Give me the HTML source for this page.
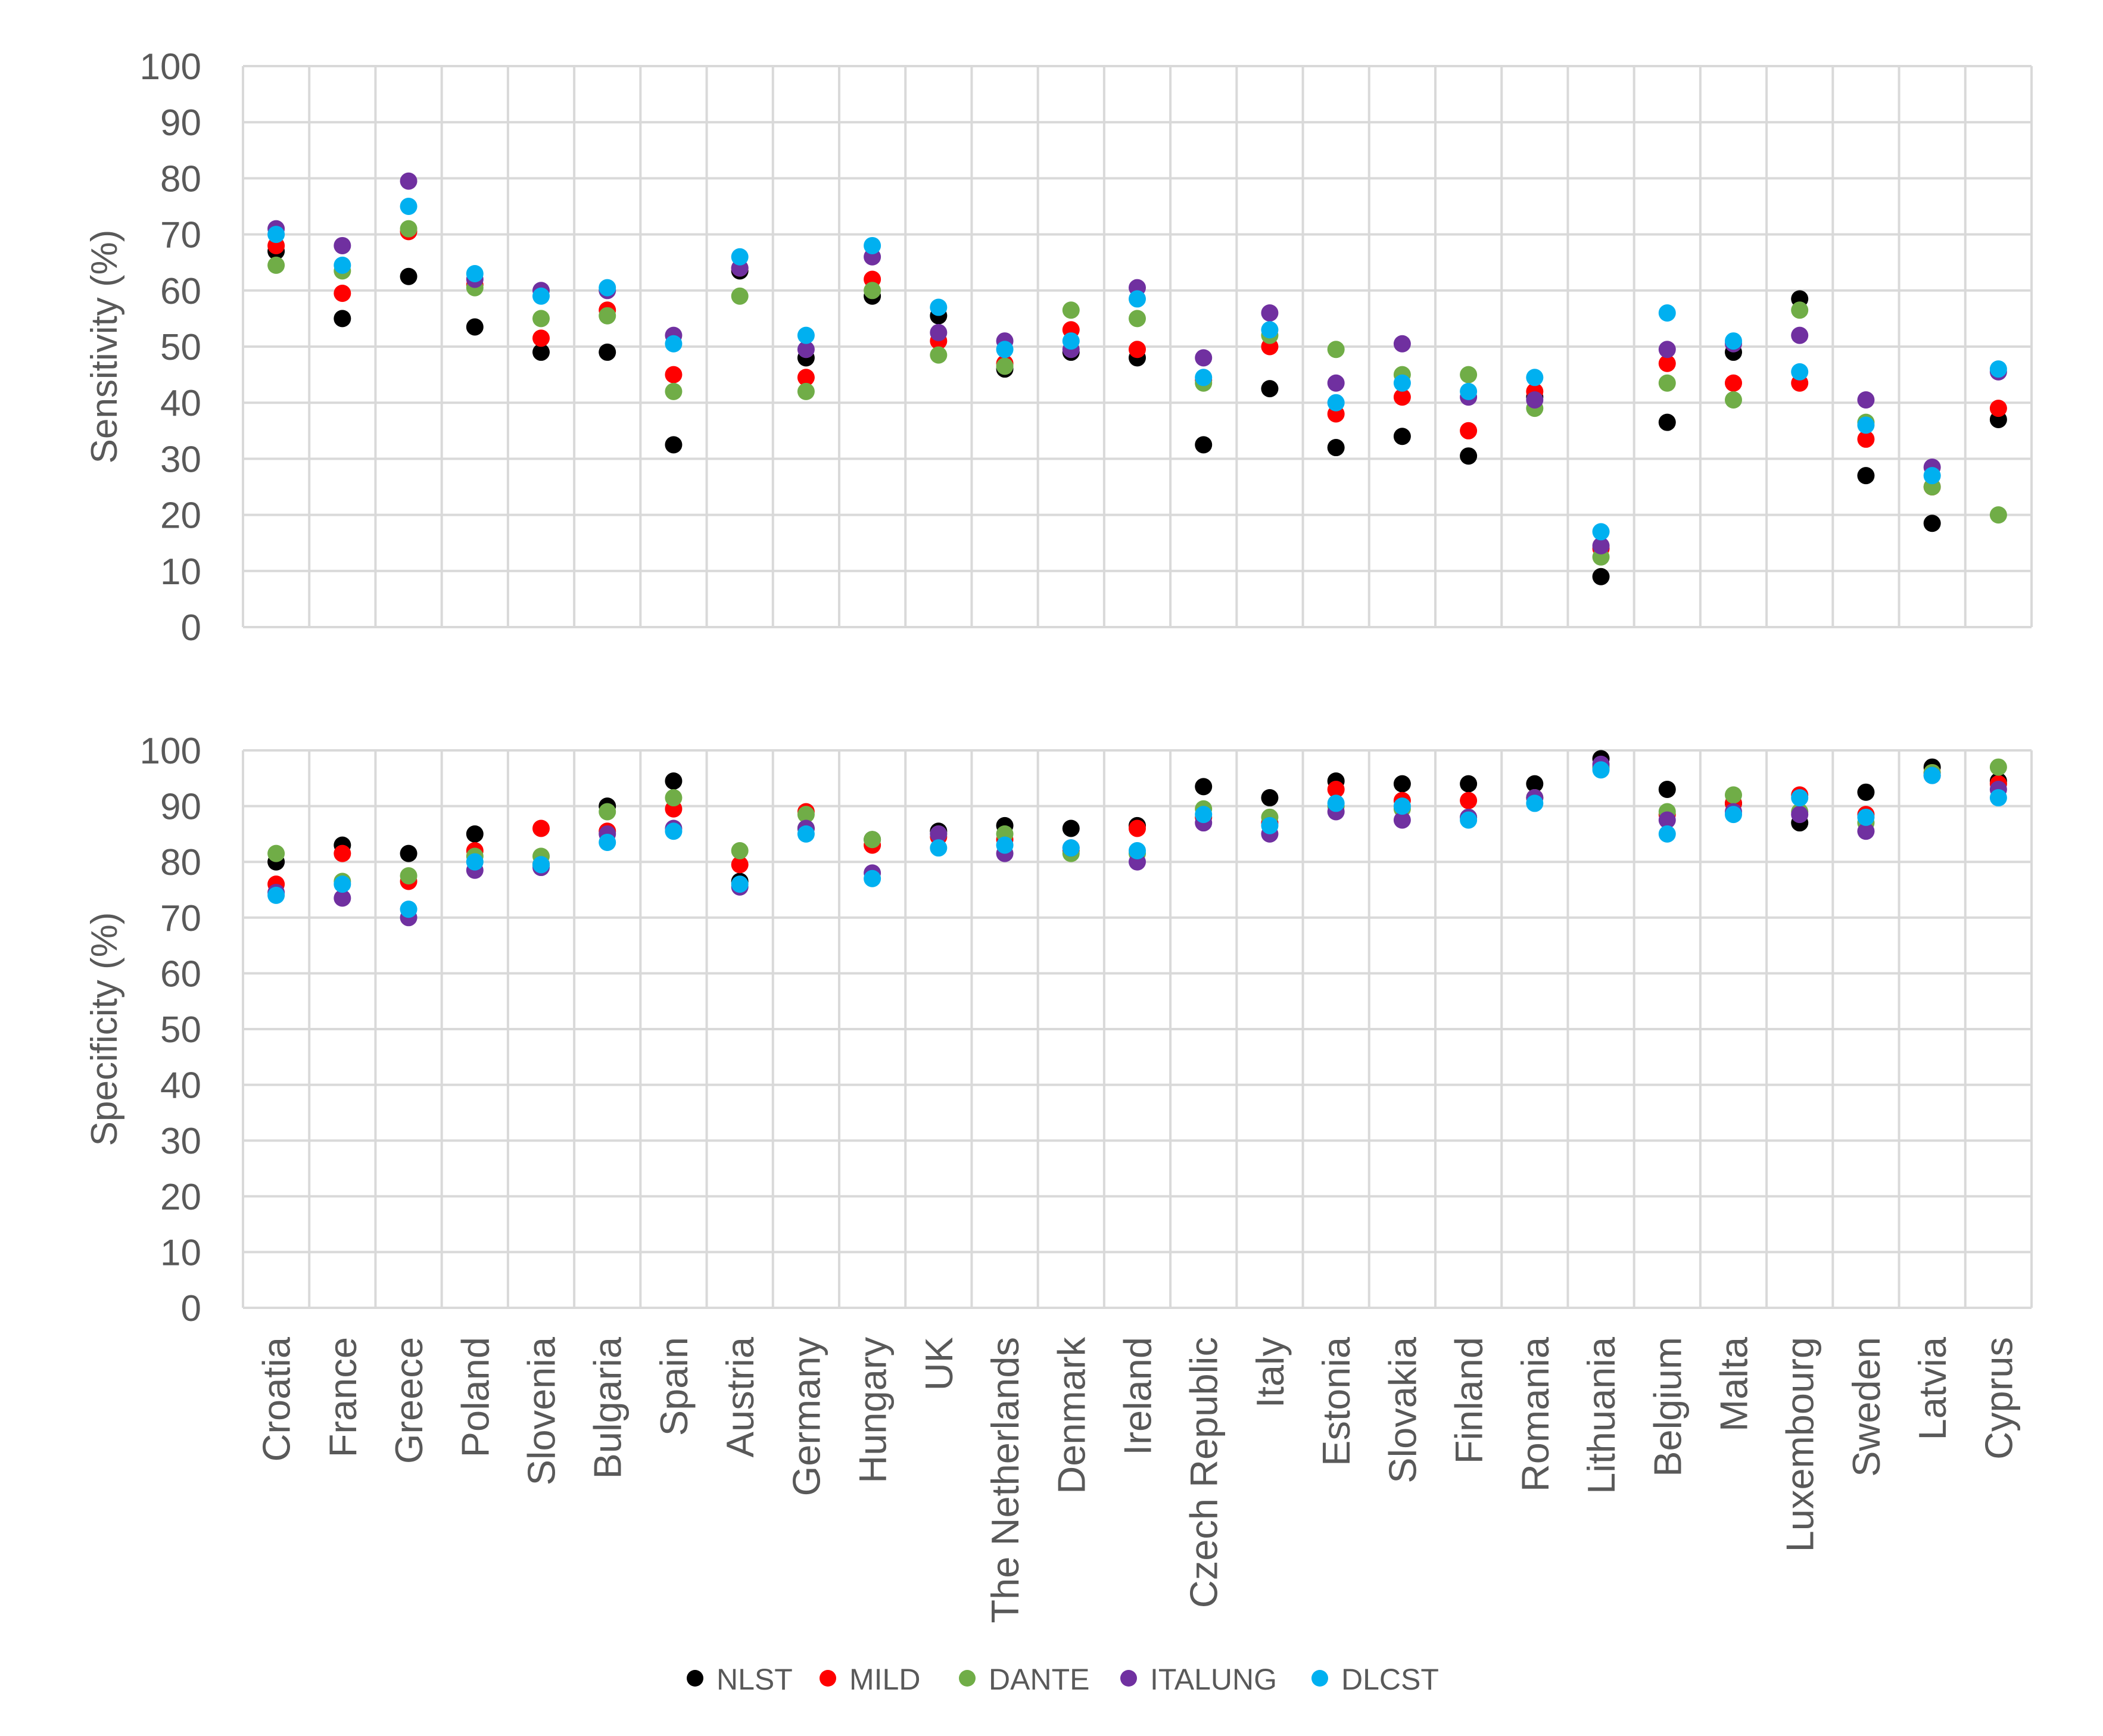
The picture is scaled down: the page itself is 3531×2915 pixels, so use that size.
<!DOCTYPE html>
<html><head><meta charset="utf-8"><style>
html,body{margin:0;padding:0;background:#fff;}
svg{display:block;font-family:"Liberation Sans",sans-serif;}
</style></head><body>
<svg id="chart" width="3531" height="2915" viewBox="0 0 3531 2915" xmlns="http://www.w3.org/2000/svg">
<rect x="0" y="0" width="3531" height="2915" fill="#fff"/>
</svg>
<script>
const countries=["Croatia","France","Greece","Poland","Slovenia","Bulgaria","Spain","Austria","Germany","Hungary","UK","The Netherlands","Denmark","Ireland","Czech Republic","Italy","Estonia","Slovakia","Finland","Romania","Lithuania","Belgium","Malta","Luxembourg","Sweden","Latvia","Cyprus"];
const seriesNames=["NLST","MILD","DANTE","ITALUNG","DLCST"];
const seriesColors=["#000000","#ff0000","#70ad47","#7030a0","#00b0f0"];
const yTicks=[0,10,20,30,40,50,60,70,80,90,100];
const sensNLST=[67,55,62.5,53.5,49,49,32.5,63.5,48,59,55.5,46,49,48,32.5,42.5,32,34,30.5,41,9,36.5,49,58.5,27,18.5,37];
const sensMILD=[68,59.5,70.5,61,51.5,56.5,45,64,44.5,62,51,47,53,49.5,44,50,38,41,35,42,14,47,43.5,43.5,33.5,25,39];
const sensDANTE=[64.5,63.5,71,60.5,55,55.5,42,59,42,60,48.5,46.5,56.5,55,43.5,52,49.5,45,45,39,12.5,43.5,40.5,56.5,36.5,25,20];
const sensITALUNG=[71,68,79.5,62,60,60,52,64,49.5,66,52.5,51,49.5,60.5,48,56,43.5,50.5,41,40.5,14.5,49.5,50.5,52,40.5,28.5,45.5];
const sensDLCST=[70,64.5,75,63,59,60.5,50.5,66,52,68,57,49.5,51,58.5,44.5,53,40,43.5,42,44.5,17,56,51,45.5,36,27,46];
const specNLST=[80,83,81.5,85,79.5,90,94.5,76.5,86,84,85.5,86.5,86,86.5,93.5,91.5,94.5,94,94,94,98.5,93,90.5,87,92.5,97,94.5];
const specMILD=[76,81.5,76.5,82,86,85.5,89.5,79.5,89,83,84.5,84,82,86,88,87,93,91,91,91.5,97,88.5,90.5,92,88.5,96,94];
const specDANTE=[81.5,76.5,77.5,81,81,89,91.5,82,88.5,84,85,85,81.5,81.5,89.5,88,90,89.5,88,91.5,97,89,92,89,87,96,97];
const specITALUNG=[74.5,73.5,70,78.5,79,85,86,75.5,86,78,85,81.5,82.5,80,87,85,89,87.5,88,91.5,97.5,87.5,89,88.5,85.5,95.5,93];
const specDLCST=[74,76,71.5,80,79.5,83.5,85.5,76,85,77,82.5,83,82.5,82,88.5,86.5,90.5,90,87.5,90.5,96.5,85,88.5,91.5,88,95.5,91.5];

const NS="http://www.w3.org/2000/svg";
const svg=document.getElementById('chart');
function mk(tag,attrs,parent){const e=document.createElementNS(NS,tag);for(const k in attrs)e.setAttribute(k,attrs[k]);(parent||svg).appendChild(e);return e;}
const X0=408,X1=3411,n=countries.length,cw=(X1-X0)/n;
function xPos(i){return X0+cw*(i+0.5);}
function panel(name,yTop,yBot,title,data){
  const g=mk('g',{});
  
  
  const y=v=>yBot-(yBot-yTop)*v/100;
  yTicks.forEach(t=>{
    const l=mk('line',{x1:X0,x2:X1,y1:y(t),y2:y(t),stroke:'#d9d9d9','stroke-width':4},g);
    
    
    const tx=mk('text',{x:338,y:y(t)+22,'text-anchor':'end','font-size':62,fill:'#595959'},g);
    tx.textContent=t;
    
    
  });
  for(let i=0;i<=n;i++){
    const xx=X0+cw*i;
    const l=mk('line',{x1:xx,x2:xx,y1:yTop,y2:yBot,stroke:'#d9d9d9','stroke-width':4},g);
    
    
  }
  const at=mk('text',{x:0,y:0,'text-anchor':'middle','font-size':62,fill:'#595959',transform:`translate(196,${(yTop+yBot)/2}) rotate(-90)`},g);
  at.textContent=title;
  
  
  data.forEach((arr,s)=>{
    arr.forEach((v,i)=>{
      const c=mk('circle',{cx:xPos(i),cy:y(v),r:14.5,fill:seriesColors[s]},g);
      
      
    });
  });
}
panel('sensitivity',111,1053,'Sensitivity (%)',[sensNLST,sensMILD,sensDANTE,sensITALUNG,sensDLCST]);
panel('specificity',1260,2196,'Specificity (%)',[specNLST,specMILD,specDANTE,specITALUNG,specDLCST]);
countries.forEach((c,i)=>{
  const t=mk('text',{x:0,y:0,'text-anchor':'end','font-size':65,fill:'#595959',transform:`translate(${xPos(i)+23},2245) rotate(-90)`});
  t.textContent=c;
  
  
});
const legX=[1167,1390,1624,1895,2216];
seriesNames.forEach((s,i)=>{
  const g=mk('g',{});
  
  
  mk('circle',{cx:legX[i],cy:2818,r:14,fill:seriesColors[i]},g);
  const t=mk('text',{x:legX[i]+36,y:2837,'font-size':50,fill:'#595959'},g);
  t.textContent=s;
});
</script>
</body></html>
